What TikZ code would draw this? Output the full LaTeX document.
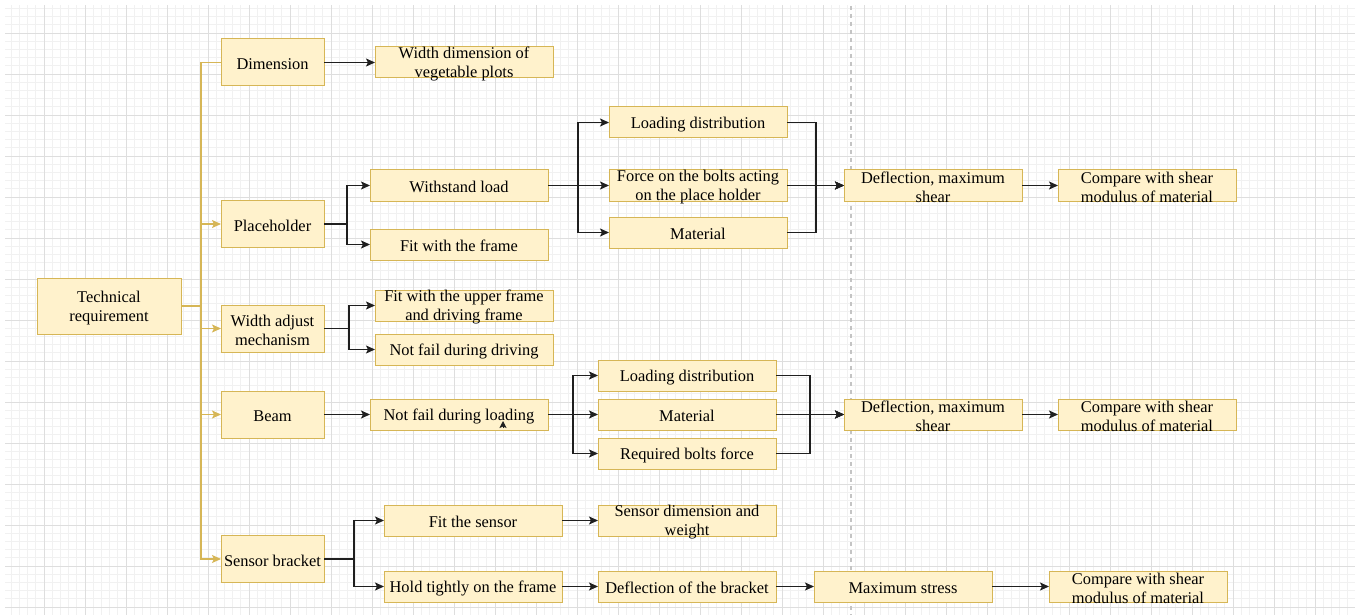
\documentclass[tikz,border=0pt]{standalone}
\usepackage{fontspec}
\setmainfont{Liberation Serif}
\usetikzlibrary{positioning,arrows.meta}

\definecolor{boxfill}{HTML}{FFF2CC}
\definecolor{boxline}{HTML}{D6B656}
\definecolor{linecol}{HTML}{1F1F1F}
\definecolor{gridminor}{HTML}{F1F1F1}
\definecolor{gridmajor}{HTML}{DEDEDE}
\definecolor{sepline}{HTML}{C4C4C4}

\tikzset{
  box/.style={draw=boxline, fill=boxfill, line width=1pt, inner sep=0pt, outer sep=0pt,
    font=\fontsize{16.4}{19}\selectfont},
  boxsize/.style 2 args={execute at begin node={\begin{minipage}[c][#2][c]{#1}\centering\vspace*{3.5pt}},
    execute at end node={\end{minipage}}},
  cell/.style={box, boxsize={178pt}{31pt}},
  head/.style={box, boxsize={103pt}{47pt}},
  arr/.style={draw=linecol, line width=1.1pt, -{Stealth[length=9pt,width=8pt,inset=2pt]}},
  feed/.style={draw=boxline, line width=1.1pt},
  feedarr/.style={feed, -{Stealth[length=9pt,width=8pt,inset=2pt]}},
}

\begin{document}
\begin{tikzpicture}[x=1pt, y=-1pt]
\useasboundingbox (0,0) rectangle (1355,615);
% background grid
\begin{scope}
  \clip (5,6) rectangle (1355,615);
  \foreach \i in {0,...,165} \draw[gridminor, line width=0.8pt] ({3+8.2*\i},0) -- ++(0,615);
  \foreach \i in {0,...,76} \draw[gridminor, line width=0.8pt] (0,{-8+8.2*\i}) -- ++(1355,0);
  \foreach \i in {0,...,33} \draw[gridmajor, line width=0.8pt] ({3+41*\i},0) -- ++(0,615);
  \foreach \i in {0,...,15} \draw[gridmajor, line width=0.8pt] (0,{-8+41*\i}) -- ++(1355,0);
\end{scope}
\draw[sepline, line width=2pt, dash pattern=on 4pt off 4pt] (851,6) -- (851,615);

% first level
\node[box, boxsize={144pt}{56pt}] (tr) at (109,306) {Technical\\requirement};
\node[head] (dim) at (272.5,62.5) {Dimension};
\node[head] (ph) at (272.5,224) {Placeholder};
\node[head] (wa) at (272.5,328.5) {Width adjust\\mechanism};
\node[head] (bm) at (272.5,414.5) {Beam};
\node[head] (sb) at (272.5,559) {Sensor bracket};

\node[cell, right=51pt of dim] (wd) {Width dimension of\\vegetable plots};

% placeholder branch
\node[cell] (wl) at (459,185.5) {Withstand load};
\node[cell, below=28pt of wl] (ff) {Fit with the frame};
\node[cell, right=61pt of wl] (fb) {Force on the bolts acting\\on the place holder};
\node[cell, above=32pt of fb] (ld1) {Loading distribution};
\node[cell, below=16pt of fb] (mt1) {Material};
\node[cell, right=57pt of fb] (df1) {Deflection, maximum\\shear};
\node[cell, right=36pt of df1] (cm1) {Compare with shear\\modulus of material};

% width adjust branch
\node[cell] (fu) at (464,305.5) {Fit with the upper frame\\and driving frame};
\node[cell, below=13pt of fu] (nd) {Not fail during driving};

% beam branch
\node[cell, right=46pt of bm] (nl) {Not fail during loading};
\node[cell, right=50pt of nl] (mt2) {Material};
\node[cell, above=8pt of mt2] (ld2) {Loading distribution};
\node[cell, below=8pt of mt2] (rb) {Required bolts force};
\node[cell, right=68pt of mt2] (df2) {Deflection, maximum\\shear};
\node[cell, right=36pt of df2] (cm2) {Compare with shear\\modulus of material};

% sensor bracket branch
\node[cell] (fs) at (473,520.5) {Fit the sensor};
\node[cell, right=36pt of fs] (sd) {Sensor dimension and\\weight};
\node[cell] (ht) at (473,586.5) {Hold tightly on the frame};
\node[cell, right=36pt of ht] (db) {Deflection of the bracket};
\node[cell, right=38pt of db] (ms) {Maximum stress};
\node[cell, right=57pt of ms] (cm3) {Compare with shear\\modulus of material};

% connectors
\draw[feed] (tr.east) -- ++(20,0) |- (dim);
\foreach \n in {ph,wa,bm,sb}
  \draw[feedarr] (tr.east) -- ++(20,0) |- (\n);
\draw[arr] (dim) -- (wd);
\foreach \n in {wl,ff} \draw[arr] (ph.east) -- ++(23,0) |- (\n);
\foreach \n in {ld1,fb,mt1} \draw[arr] (wl.east) -- ++(30,0) |- (\n);
\foreach \n in {ld1,fb,mt1} \draw[arr] (\n.east) -- ++(29,0) |- (df1);
\draw[arr] (df1) -- (cm1);
\foreach \n in {fu,nd} \draw[arr] (wa.east) -- ++(25,0) |- (\n);
\draw[arr] (bm) -- (nl);
\foreach \n in {ld2,mt2,rb} \draw[arr] (nl.east) -- ++(25,0) |- (\n);
\foreach \n in {ld2,mt2,rb} \draw[arr] (\n.east) -- ++(34,0) |- (df2);
\draw[arr] (df2) -- (cm2);
\foreach \n in {fs,ht} \draw[arr] (sb.east) -- ++(30,0) |- (\n);
\draw[arr] (fs) -- (sd);
\draw[arr] (ht) -- (db);
\draw[arr] (db) -- (ms);
\draw[arr] (ms) -- (cm3);
% stray tip under the loading box
\coordinate (tip) at (503,421);
\draw[draw=linecol, line width=1pt, -{Stealth[length=7pt,width=7pt,inset=1.5pt]}] ([yshift=-7pt]tip) -- (tip);
\end{tikzpicture}
\end{document}
